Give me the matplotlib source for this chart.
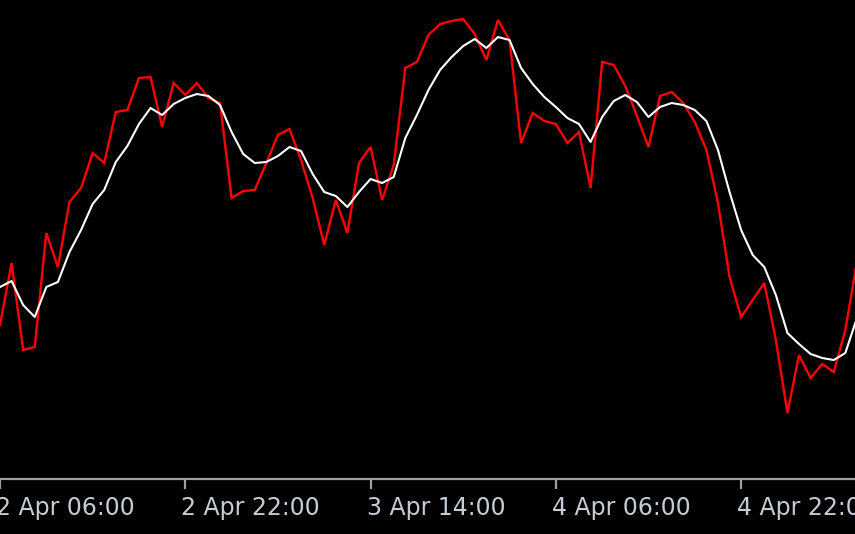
import numpy as np
import matplotlib.pyplot as plt
from matplotlib.transforms import blended_transform_factory

# hourly bars, hour 0 = 2 Apr 06:00
price = [175, 237, 150, 153, 267, 233, 298, 312, 347, 337,
         388, 390, 422, 423, 373, 417, 405, 417, 402, 397,
         302, 309, 310, 337, 365, 371, 340, 302, 255, 300,
         267, 337, 353, 300, 335, 432, 438, 465, 476, 479,
         481, 466, 440, 480, 460, 357, 387, 379, 376, 357,
         368, 312, 438, 435, 414, 384, 353, 404, 408, 397,
         378, 350, 297, 223, 183, 200, 217, 160, 87, 145,
         122, 136, 128, 170, 238]

smooth = [213, 219, 195, 183, 213, 218, 248, 270, 296, 310,
          338, 354, 376, 392, 385, 396, 402, 406, 404, 395,
          368, 346, 337, 338, 344, 353, 349, 326, 308, 304,
          293, 308, 321, 317, 323, 362, 385, 410, 430, 443,
          454, 461, 452, 463, 460, 432, 416, 403, 393, 382,
          376, 358, 383, 399, 405, 398, 383, 393, 397, 395,
          390, 379, 350, 308, 270, 245, 233, 205, 167, 156,
          146, 142, 140, 147, 182]

tick_hours = [0, 16, 32, 48, 64]
tick_labels = ['2 Apr 06:00', '2 Apr 22:00', '3 Apr 14:00', '4 Apr 06:00', '4 Apr 22:00']

hours = np.arange(len(price))

fig = plt.figure(figsize=(8.55, 5.34), dpi=100, facecolor='black')
ax = fig.add_axes([0, 55 / 534, 1, 479 / 534])
ax.set_facecolor('black')

ax.plot(hours, price, color='#ff0000', lw=1.7, solid_joinstyle='miter')
ax.plot(hours, smooth, color='#ffffff', lw=1.5)

ax.set_xlim(0, 855 / 11.58)
ax.set_ylim(21, 500)

for s in ['top', 'left', 'right']:
    ax.spines[s].set_visible(False)
ax.spines['bottom'].set_color('#a0a0a0')
ax.spines['bottom'].set_linewidth(1.6)
ax.set_yticks([])
ax.set_xticks(tick_hours)
ax.set_xticklabels([])
ax.tick_params(axis='x', direction='out', length=7.5, width=1.6, color='#a0a0a0')

# labels start at the tick, like the terminal draws them
trans = blended_transform_factory(ax.transData, fig.transFigure)
for h, lab in zip(tick_hours, tick_labels):
    ax.text(h - 0.35, (534 - 515) / 534, lab, transform=trans, ha='left', va='baseline',
            fontsize=17, color='#c4ccd4', family='DejaVu Sans', clip_on=False)

fig.savefig('out.png', dpi=100, facecolor='black')
